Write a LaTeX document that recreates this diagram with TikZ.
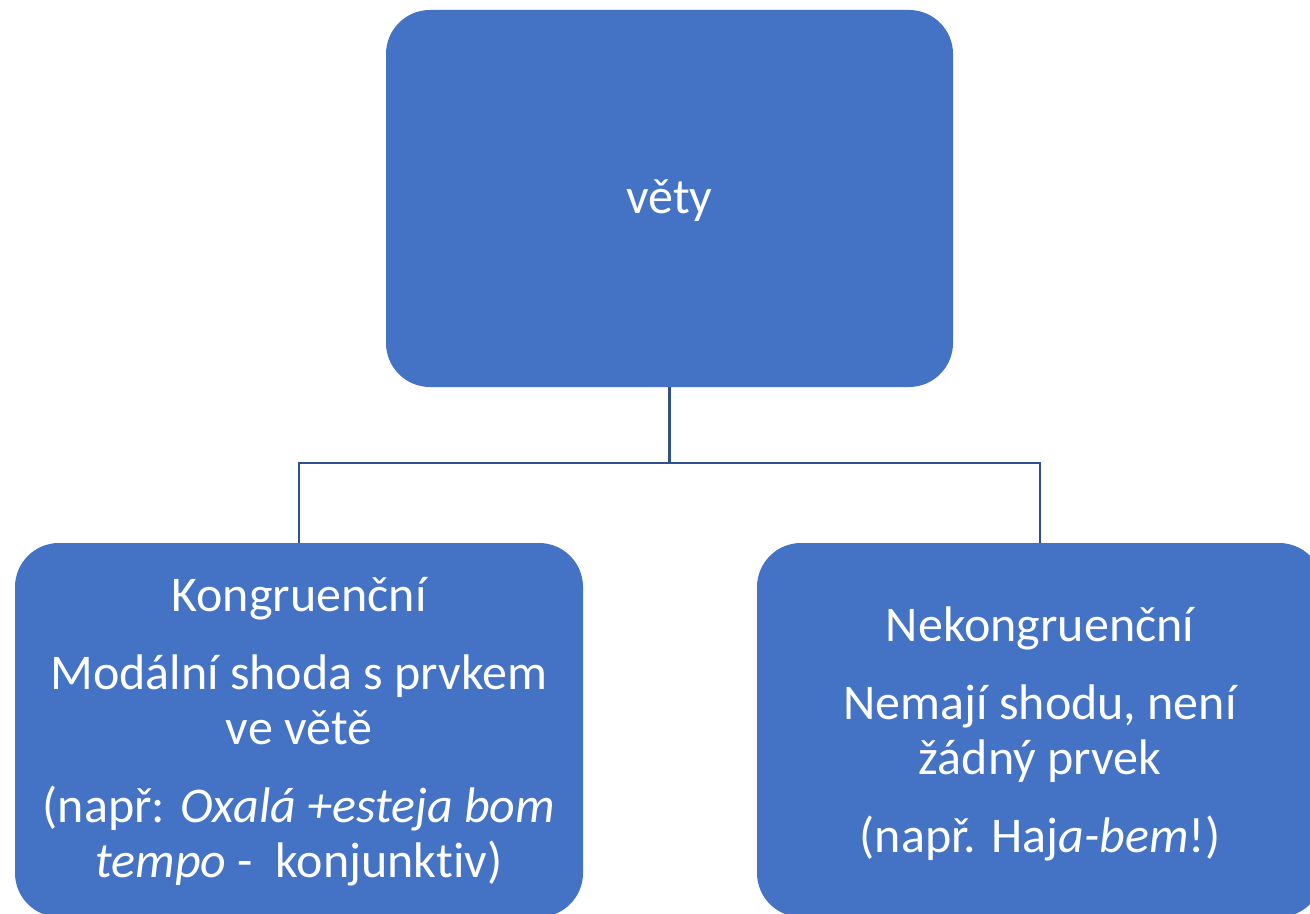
\documentclass[tikz,border=0pt]{standalone}
\usepackage{fontspec}
\setmainfont{Carlito}[Ligatures=NoCommon]
\definecolor{boxblue}{HTML}{4472C4}
\definecolor{linkblue}{HTML}{2F528F}
\tikzset{
  card/.style={draw=none, fill=boxblue, rounded corners=22pt, text=white, align=center,
    font=\fontsize{25pt}{27.5pt}\selectfont, inner sep=0pt},
  cardtext/.style={text=white, align=center, font=\fontsize{25pt}{27.5pt}\selectfont},
  link/.style={draw=linkblue, line width=1.2pt}
}
\begin{document}
\begin{tikzpicture}[x=0.5pt,y=-0.5pt]
\useasboundingbox (0,0) rectangle (1310,914);
\clip (0,0) rectangle (1310,914);
\node[card, minimum width=283.5pt, minimum height=188.5pt] (top) at (669.5,198.5) {};
\node[cardtext] (toptext) at (669.5,201) {věty};
\node[card, minimum width=284pt, minimum height=187pt] (left) at (299,730) {};
\node[card, minimum width=283pt, minimum height=187pt] (right) at (1040,730) {};
\node[cardtext] (lefttext) at (299,732)
  {Kongruenční\\[11.5pt] Modální shoda s prvkem\\ ve větě\\[11.5pt] (např: \textit{Oxalá +esteja bom}\\ \textit{tempo} -\ \ konjunktiv)};
\node[cardtext] (righttext) at (1040,734)
  {Nekongruenční\\[11.5pt] Nemají shodu, není\\ žádný prvek\\[11.5pt] (např. Haj\textit{a-bem}!)};
\coordinate (split) at (669.5,463);
\draw[link] (top.south) -- (split);
\draw[link] (split) -| (left.north);
\draw[link] (split) -| (right.north);
\end{tikzpicture}
\end{document}
